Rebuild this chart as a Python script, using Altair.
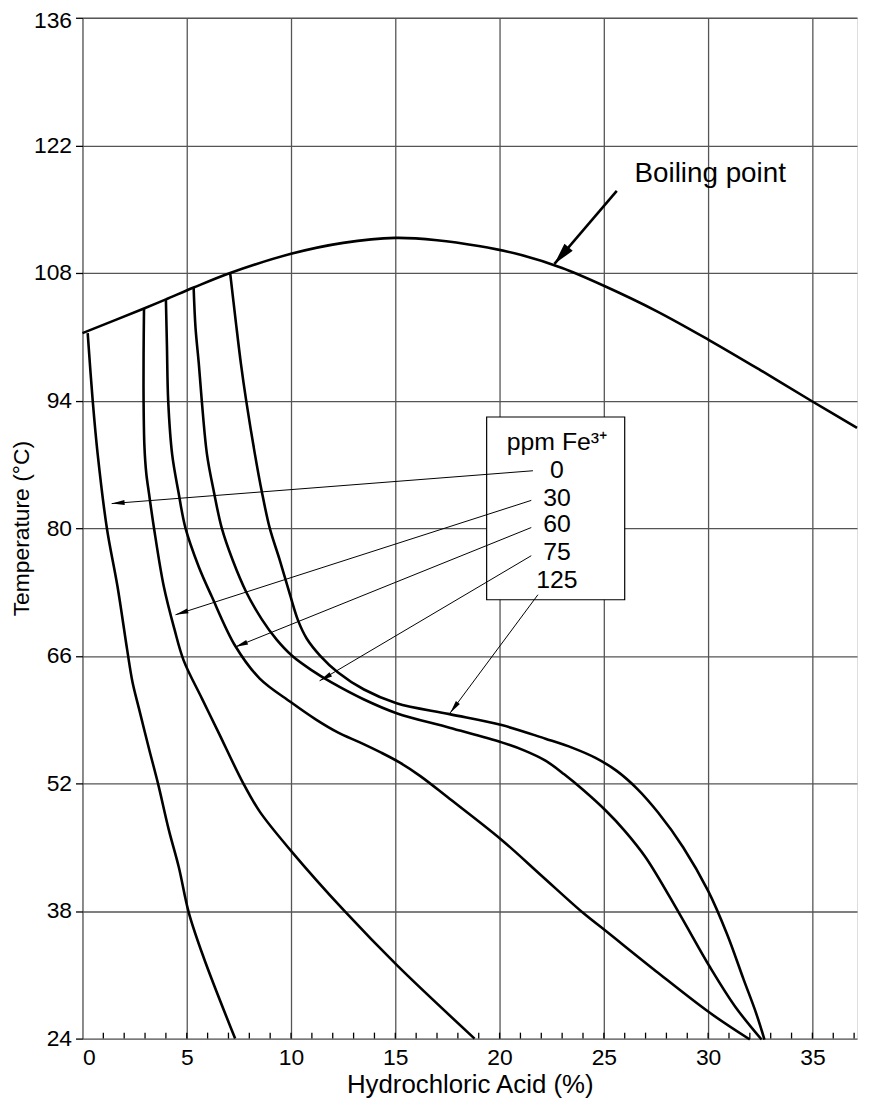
import math
import altair as alt
import pandas as pd

W, H = 780, 1028
XMAX = 37.14
YMIN, YMAX = 24, 136
FONT = "Liberation Sans"

# ---- curve data (x = HCl %, y = temperature degC) ----
boil_x = [0, 2.95, 4.0, 5.33, 7.08, 10, 12.5, 15, 17, 19, 21, 23, 25, 27.5, 30, 32.5, 35, 37.14]
boil_y = [101.4, 104.1, 105.1, 106.4, 108.0, 110.1, 111.3, 111.85, 111.6, 110.95, 110.0, 108.55, 106.6, 103.85, 100.7, 97.35, 93.9, 91.0]

fe0_x = [0.25, 0.49, 0.73, 1.17, 1.68, 2.14, 2.4, 2.71, 3.19, 3.62, 4.14, 4.62, 5.1, 5.81, 7.32]
fe0_y = [101.4, 94.0, 88.1, 80.0, 73.6, 66.7, 63.1, 60.2, 55.8, 52.0, 46.9, 42.8, 37.8, 32.9, 24.0]

fe30_x = [2.95, 2.93, 2.93, 2.97, 3.06, 3.19, 3.43, 3.9, 4.4, 4.85, 5.73, 6.52, 7.71, 8.5, 10.0, 12.56, 15.1, 18.8]
fe30_y = [104.1, 99.0, 94.0, 89.0, 86.0, 83.8, 80.0, 73.6, 69.0, 65.5, 61.3, 57.6, 52.0, 48.9, 44.6, 38.0, 32.0, 24.0]

fe60_x = [4.0, 4.05, 4.11, 4.3, 4.6, 4.94, 5.57, 6.2, 7.32, 8.5, 10.0, 11.2, 12.24, 13.3, 14.3, 15.2, 16.2, 17.5, 20.1, 22.0, 24.0, 25.1, 27.5, 30.1, 32.0]
fe60_y = [105.1, 100.0, 94.0, 88.1, 84.0, 80.0, 75.8, 72.5, 67.1, 63.5, 60.9, 59.0, 57.6, 56.5, 55.4, 54.3, 52.8, 50.5, 45.8, 41.9, 37.8, 35.8, 31.4, 26.8, 23.9]

fe75_x = [5.33, 5.42, 5.58, 5.72, 5.97, 6.3, 6.68, 7.2, 7.85, 8.6, 9.3, 10.05, 11.0, 11.92, 13.5, 15.06, 17.6, 20.1, 21.2, 22.2, 23.1, 24.0, 25.1, 26.0, 27.0, 28.6, 30.1, 31.3, 32.56]
fe75_y = [106.4, 102.0, 98.0, 94.0, 88.1, 84.0, 80.0, 76.5, 73.0, 70.0, 67.8, 66.0, 64.4, 63.1, 61.2, 59.7, 58.1, 56.5, 55.6, 54.5, 53.0, 51.3, 49.0, 46.8, 43.9, 37.8, 31.8, 27.5, 23.9]

fe125_x = [7.08, 7.35, 7.6, 7.85, 8.27, 8.6, 8.98, 9.46, 9.95, 10.35, 10.75, 11.4, 12.24, 13.5, 15.06, 17.6, 20.1, 22.2, 23.5, 24.6, 25.6, 26.6, 27.6, 28.8, 30.0, 30.9, 31.7, 32.3, 32.7]
fe125_y = [108.0, 102.7, 98.0, 94.0, 88.1, 84.0, 80.0, 76.5, 72.7, 69.8, 67.9, 66.0, 64.2, 62.3, 60.8, 59.6, 58.4, 56.9, 55.9, 54.8, 53.4, 51.4, 48.8, 45.0, 40.2, 35.5, 30.5, 26.8, 23.9]

# ---- axis ticks ----
x_ticks = [0, 5, 10, 15, 20, 25, 30, 35]
y_ticks = [24, 38, 52, 66, 80, 94, 108, 122, 136]
minor_x = list(range(1, 38))

# ---- legend box and labels ----
box = {"x": 19.38, "x2": 26.0, "y": 92.2, "y2": 72.15}
legend_title = "ppm Fe³⁺"
legend_labels = ["0", "30", "60", "75", "125"]
legend_text_x = 22.75
legend_text_y = [89.4, 86.4, 83.3, 80.5, 77.4, 74.3]

# ---- arrows (start near label -> tip on curve) ----
arrow_sx = [21.6, 21.52, 21.52, 21.52, 21.84]
arrow_sy = [86.3, 83.05, 80.07, 76.98, 72.7]
arrow_tx = [1.40, 4.46, 7.32, 11.37, 17.63]
arrow_ty = [82.7, 70.5, 66.96, 63.25, 59.73]

boil_arrow = {"sx": 25.62, "sy": 117.0, "tx": 22.63, "ty": 109.0}
boil_label = "Boiling point"
boil_label_pos = (30.1, 118.9)

# ---- build tables ----
rows = []
for name, xs_, ys_ in [("boil", boil_x, boil_y), ("0", fe0_x, fe0_y), ("30", fe30_x, fe30_y),
                       ("60", fe60_x, fe60_y), ("75", fe75_x, fe75_y), ("125", fe125_x, fe125_y)]:
    for i, (a, b) in enumerate(zip(xs_, ys_)):
        rows.append({"curve": name, "x": a, "y": b, "o": i})
curves = pd.DataFrame(rows)

px_x = W / XMAX
px_y = H / (YMAX - YMIN)


def head_angle(sx, sy, tx, ty):
    dx = (tx - sx) * px_x
    dy = -(ty - sy) * px_y
    return math.degrees(math.atan2(dx, -dy)) % 360


arrows = pd.DataFrame({"sx": arrow_sx, "sy": arrow_sy, "tx": arrow_tx, "ty": arrow_ty})
arrows["angle"] = [head_angle(*r) for r in zip(arrow_sx, arrow_sy, arrow_tx, arrow_ty)]
barrow = pd.DataFrame([boil_arrow])
barrow["angle"] = [head_angle(boil_arrow["sx"], boil_arrow["sy"], boil_arrow["tx"], boil_arrow["ty"])]

xs = alt.Scale(domain=[0, XMAX], nice=False, zero=False)
ys = alt.Scale(domain=[YMIN, YMAX], nice=False, zero=False)

xaxis = alt.Axis(values=x_ticks, grid=True, ticks=False, domain=False, labelFontSize=23,
                 labelFont=FONT, labelColor="black", labelPadding=8,
                 title="Hydrochloric Acid (%)", titleFont=FONT, titleFontSize=26,
                 titleFontWeight="normal", titleColor="black",
                 titleY=46, titleBaseline="middle",
                 gridColor="#555555", gridWidth=1.3)
yaxis = alt.Axis(values=y_ticks, grid=True, ticks=True, tickSize=7, tickColor="black",
                 tickWidth=1.3, domain=False, labelFontSize=23, labelFont=FONT,
                 labelColor="black", labelPadding=4,
                 labelOffset={"condition": {"test": "datum.value == 136", "value": 3}, "value": 0},
                 title="Temperature (°C)", titleFont=FONT, titleFontSize=23,
                 titleFontWeight="normal", titleColor="black",
                 titleX=-61, titleBaseline="middle",
                 gridColor="#555555", gridWidth=1.3)

base_axes = alt.Chart(pd.DataFrame({"x": [0.0], "y": [YMIN]})).mark_point(opacity=0).encode(
    x=alt.X("x:Q", scale=xs, axis=xaxis),
    y=alt.Y("y:Q", scale=ys, axis=yaxis),
)

box_layer = alt.Chart(pd.DataFrame([box])).mark_rect(fill="white", stroke="black", strokeWidth=1.2).encode(
    x=alt.X("x:Q", scale=xs), x2="x2:Q", y=alt.Y("y:Q", scale=ys), y2="y2:Q")

lines = alt.Chart(curves).mark_line(color="black", strokeWidth=2.6, interpolate="catmull-rom").encode(
    x=alt.X("x:Q", scale=xs), y=alt.Y("y:Q", scale=ys), detail="curve:N", order="o:Q")

minor = alt.Chart(pd.DataFrame({"x": minor_x})).mark_rule(color="black", strokeWidth=1.3).encode(
    x=alt.X("x:Q", scale=xs), y=alt.value(H), y2=alt.value(H - 6))

arrow_lines = alt.Chart(arrows).mark_rule(color="black", strokeWidth=1).encode(
    x=alt.X("sx:Q", scale=xs), y=alt.Y("sy:Q", scale=ys), x2="tx:Q", y2="ty:Q")

arrow_heads = alt.Chart(arrows).mark_point(shape="M0,0L0.38,2L-0.38,2Z", filled=True, color="black",
                                           opacity=1, size=170, strokeWidth=0).encode(
    x=alt.X("tx:Q", scale=xs), y=alt.Y("ty:Q", scale=ys), angle=alt.Angle("angle:Q", scale=None))

barrow_line = alt.Chart(barrow).mark_rule(color="black", strokeWidth=2.6).encode(
    x=alt.X("sx:Q", scale=xs), y=alt.Y("sy:Q", scale=ys), x2="tx:Q", y2="ty:Q")

barrow_head = alt.Chart(barrow).mark_point(shape="M0,0L0.5,2L-0.5,2Z", filled=True, color="black",
                                           opacity=1, size=480, strokeWidth=0).encode(
    x=alt.X("tx:Q", scale=xs), y=alt.Y("ty:Q", scale=ys), angle=alt.Angle("angle:Q", scale=None))

legend_df = pd.DataFrame({"t": [legend_title] + legend_labels,
                          "x": [legend_text_x] * 6, "y": legend_text_y})
legend_text = alt.Chart(legend_df).mark_text(font=FONT, fontSize=25, color="black",
                                             align="center", baseline="middle").encode(
    x=alt.X("x:Q", scale=xs), y=alt.Y("y:Q", scale=ys), text="t:N")

boil_text = alt.Chart(pd.DataFrame({"t": [boil_label], "x": [boil_label_pos[0]], "y": [boil_label_pos[1]]})).mark_text(
    font=FONT, fontSize=28, color="black", align="center", baseline="middle").encode(
    x=alt.X("x:Q", scale=xs), y=alt.Y("y:Q", scale=ys), text="t:N")

chart = alt.layer(base_axes, box_layer, lines, minor, arrow_lines, arrow_heads,
                  barrow_line, barrow_head, legend_text, boil_text).properties(
    width=W, height=H,
    autosize=alt.AutoSizeParams(type="none"),
    padding={"left": 75, "top": 6, "right": 5, "bottom": 58},
).configure_view(stroke="black", strokeWidth=3).configure(background="white")

chart.save("out.html", embed_options={"renderer": "svg", "actions": False})
